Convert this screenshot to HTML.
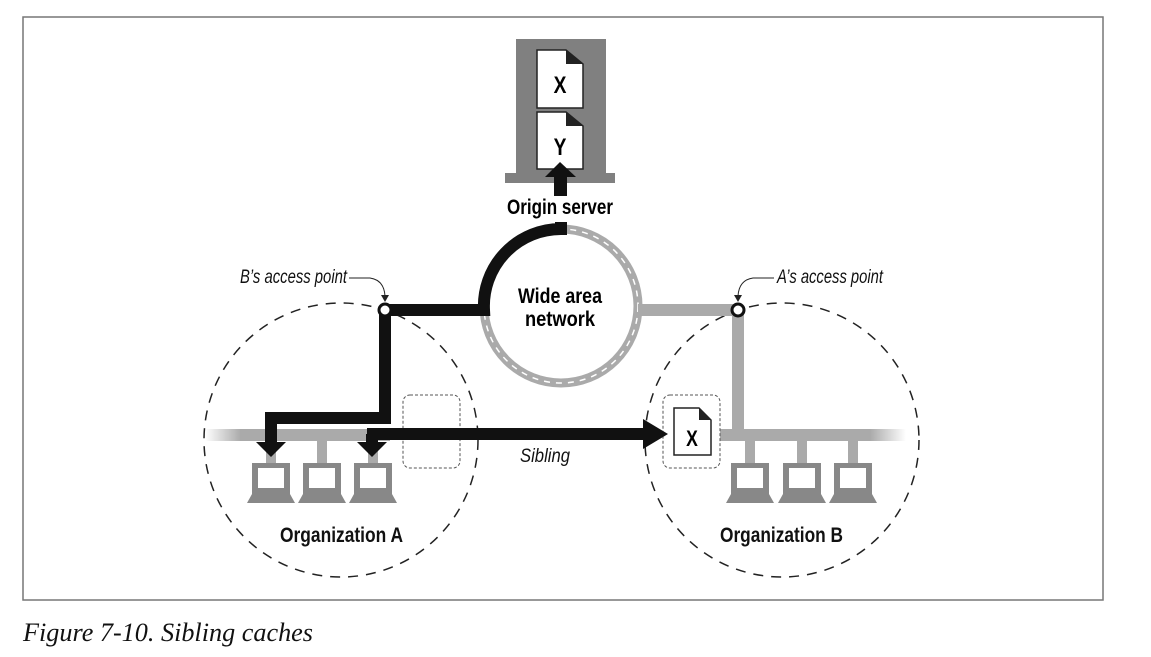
<!DOCTYPE html>
<html><head><style>
html,body{margin:0;padding:0;background:#fff;}
svg{display:block;}
</style></head><body>
<svg width="1151" height="657" viewBox="0 0 1151 657" xmlns="http://www.w3.org/2000/svg">
<defs>
<linearGradient id="fadeL" x1="0" x2="1"><stop offset="0" stop-color="#aaa" stop-opacity="0"/><stop offset="1" stop-color="#aaa"/></linearGradient>
<linearGradient id="fadeR" x1="0" x2="1"><stop offset="0" stop-color="#aaa"/><stop offset="1" stop-color="#aaa" stop-opacity="0"/></linearGradient>
<g id="pc">
<rect x="-5" y="-22" width="10" height="24" fill="#aaa"/>
<rect x="-19" y="0" width="38" height="31" fill="#888"/>
<rect x="-13" y="5" width="26" height="20" fill="#fff"/>
<polygon points="-19,31 19,31 24,40 -24,40" fill="#888"/>
</g>
</defs>
<rect x="23" y="17" width="1080" height="583" fill="none" stroke="#777" stroke-width="1.5"/>

<circle cx="341" cy="440" r="137" fill="none" stroke="#222" stroke-width="1.5" stroke-dasharray="10,8"/>
<circle cx="782" cy="440" r="137" fill="none" stroke="#222" stroke-width="1.5" stroke-dasharray="10,8"/>

<rect x="516" y="39" width="90" height="136" fill="#808080"/>
<rect x="505" y="173" width="110" height="10" fill="#808080"/>
<path d="M537,50 H566 L583,64 V108 H537 Z" fill="#fff" stroke="#222" stroke-width="1.5"/>
<path d="M566,50 L583,64 H566 Z" fill="#222"/>
<text x="560" y="93" font-family="Liberation Sans, sans-serif" font-weight="bold" font-size="24" text-anchor="middle" transform="translate(560 0) scale(0.8 1) translate(-560 0)">X</text>
<path d="M537,112 H566 L583,126 V169 H537 Z" fill="#fff" stroke="#222" stroke-width="1.5"/>
<path d="M566,112 L583,126 H566 Z" fill="#222"/>
<text x="560" y="155" font-family="Liberation Sans, sans-serif" font-weight="bold" font-size="24" text-anchor="middle" transform="translate(560 0) scale(0.8 1) translate(-560 0)">Y</text>
<rect x="554" y="176" width="13" height="20" fill="#111"/>
<polygon points="545,177 576,177 560,162" fill="#111"/>
<text x="507" y="214" textLength="106" lengthAdjust="spacingAndGlyphs" font-family="Liberation Sans, sans-serif" font-weight="bold" font-size="21">Origin server</text>

<circle cx="561" cy="306" r="77" fill="#fff" stroke="#aaa" stroke-width="9"/>
<circle cx="561" cy="306" r="77" fill="none" stroke="#fff" stroke-width="1.5" stroke-dasharray="6,6"/>
<text x="518" y="303" textLength="84" lengthAdjust="spacingAndGlyphs" font-family="Liberation Sans, sans-serif" font-weight="bold" font-size="21">Wide area</text>
<text x="525" y="326" textLength="70" lengthAdjust="spacingAndGlyphs" font-family="Liberation Sans, sans-serif" font-weight="bold" font-size="21">network</text>

<rect x="638" y="304" width="100" height="12" fill="#aaa"/>
<rect x="732" y="310" width="12" height="126" fill="#aaa"/>
<rect x="720" y="429" width="150" height="12" fill="#aaa"/>
<rect x="870" y="429" width="36" height="12" fill="url(#fadeR)"/>
<use href="#pc" x="750" y="463"/>
<use href="#pc" x="802" y="463"/>
<use href="#pc" x="853" y="463"/>

<rect x="205" y="429" width="36" height="12" fill="url(#fadeL)"/>
<rect x="240" y="429" width="150" height="12" fill="#aaa"/>
<use href="#pc" x="271" y="463"/>
<use href="#pc" x="322" y="463"/>
<use href="#pc" x="373" y="463"/>

<rect x="403" y="395" width="57" height="73" rx="7" fill="none" stroke="#555" stroke-width="1" stroke-dasharray="3,2"/>
<rect x="663" y="395" width="57" height="73" rx="7" fill="none" stroke="#555" stroke-width="1" stroke-dasharray="3,2"/>
<path d="M674,408 H699 L711,420 V455 H674 Z" fill="#fff" stroke="#222" stroke-width="1.5"/>
<path d="M699,408 L711,420 H699 Z" fill="#222"/>
<text x="692" y="446" font-family="Liberation Sans, sans-serif" font-weight="bold" font-size="22" text-anchor="middle" transform="translate(692 0) scale(0.8 1) translate(-692 0)">X</text>

<path d="M385,310 H484 A77,77 0 0 1 561,229 V222" fill="none" stroke="#111" stroke-width="12"/>
<path d="M385,310 V418 H271 V444" fill="none" stroke="#111" stroke-width="12"/>
<polygon points="256,442 286,442 271,457" fill="#111"/>
<rect x="367" y="428" width="278" height="12" fill="#111"/>
<polygon points="643,419 668,434 643,449" fill="#111"/>
<rect x="366" y="434" width="12" height="10" fill="#111"/>
<polygon points="357,442 387,442 372,457" fill="#111"/>

<circle cx="385" cy="310" r="6" fill="#fff" stroke="#111" stroke-width="3"/>
<circle cx="738" cy="310" r="6" fill="#fff" stroke="#111" stroke-width="3"/>
<path d="M349,278 H370 Q384,280 385,296" fill="none" stroke="#222" stroke-width="1"/>
<polygon points="381,295 389,295 385,302" fill="#222"/>
<path d="M774,278 H753 Q739,280 738,296" fill="none" stroke="#222" stroke-width="1"/>
<polygon points="734,295 742,295 738,302" fill="#222"/>

<g font-family="Liberation Sans, sans-serif" font-style="italic" font-size="19" fill="#111">
<text x="240" y="283" textLength="107" lengthAdjust="spacingAndGlyphs">B’s access point</text>
<text x="777" y="283" textLength="106" lengthAdjust="spacingAndGlyphs">A’s access point</text>
<text x="520" y="462" textLength="50" lengthAdjust="spacingAndGlyphs">Sibling</text>
</g>
<g font-family="Liberation Sans, sans-serif" font-weight="bold" font-size="21" fill="#111">
<text x="280" y="542" textLength="123" lengthAdjust="spacingAndGlyphs">Organization A</text>
<text x="720" y="542" textLength="123" lengthAdjust="spacingAndGlyphs">Organization B</text>
</g>
<text x="23" y="641" textLength="290" lengthAdjust="spacingAndGlyphs" font-family="Liberation Serif, serif" font-style="italic" font-size="26" fill="#111">Figure 7-10. Sibling caches</text>
</svg>
</body></html>
